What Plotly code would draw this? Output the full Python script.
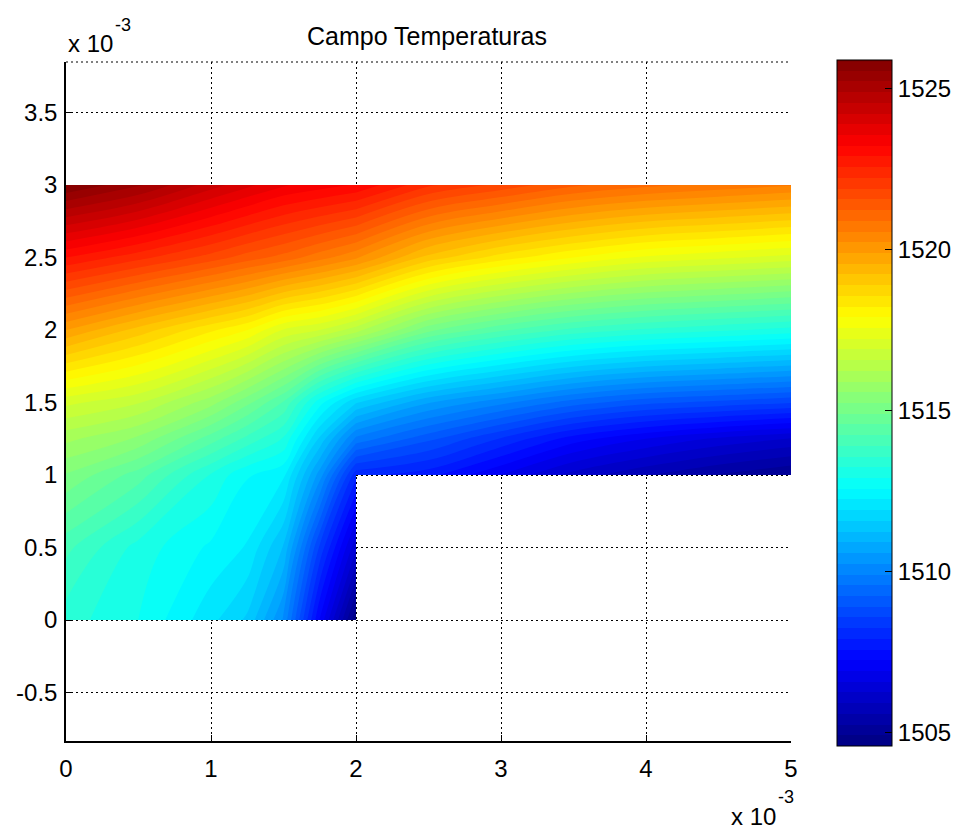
import plotly.graph_objects as go

# ---------------- data ----------------
TITLE = "Campo Temperaturas"

# node coordinates in metres
X_LEFT = [0.0, 0.5e-3, 1.0e-3, 1.25e-3, 1.5e-3, 1.75e-3, 2.0e-3]
Y_LEFT = [0.0, 0.5e-3, 1.0e-3, 1.25e-3, 1.5e-3, 2.0e-3, 2.5e-3, 3.0e-3]
X_RIGHT = [2.0e-3, 2.5e-3, 3.0e-3, 3.5e-3, 4.0e-3, 4.5e-3, 5.0e-3]
Y_RIGHT = [1.0e-3, 1.25e-3, 1.5e-3, 2.0e-3, 2.5e-3, 3.0e-3]

# temperatures at the nodes (rows = y, columns = x)
T_LEFT = [
    [1513.4, 1512.9, 1512.0, 1511.5, 1510.2, 1507.2, 1504.6],
    [1514.0, 1513.1, 1512.5, 1512.2, 1511.2, 1508.5, 1506.3],
    [1515.2, 1514.4, 1513.2, 1512.6, 1512.3, 1510.4, 1508.0],
    [1516.0, 1515.5, 1514.4, 1513.8, 1513.2, 1511.5, 1509.8],
    [1517.0, 1516.6, 1515.7, 1515.0, 1514.2, 1512.7, 1511.6],
    [1519.9, 1519.1, 1518.3, 1517.9, 1517.2, 1516.9, 1516.4],
    [1522.9, 1522.35, 1521.75, 1521.4, 1521.1, 1520.7, 1520.3],
    [1525.9, 1525.3, 1524.4, 1524.0, 1523.6, 1523.4, 1523.2],
]
T_RIGHT = [
    [1508.0, 1507.7, 1506.9, 1506.1, 1505.6, 1505.2, 1504.9],
    [1509.8, 1509.0, 1508.2, 1507.4, 1506.9, 1506.5, 1506.2],
    [1511.6, 1510.6, 1510.0, 1509.4, 1509.0, 1508.8, 1508.6],
    [1516.4, 1515.0, 1514.3, 1513.8, 1513.5, 1513.3, 1513.1],
    [1520.3, 1519.1, 1518.4, 1517.9, 1517.5, 1517.3, 1517.1],
    [1523.2, 1522.3, 1521.8, 1521.3, 1521.0, 1520.8, 1520.6],
]
T_MIN, T_MAX = 1504.57, 1525.9

X_TICKS = [0.0, 1e-3, 2e-3, 3e-3, 4e-3, 5e-3]
X_TICK_LABELS = ["0", "1", "2", "3", "4", "5"]
Y_TICKS = [-0.5e-3, 0.0, 0.5e-3, 1e-3, 1.5e-3, 2e-3, 2.5e-3, 3e-3, 3.5e-3]
Y_TICK_LABELS = ["-0.5", "0", "0.5", "1", "1.5", "2", "2.5", "3", "3.5"]
CBAR_TICKS = [1505, 1510, 1515, 1520, 1525]

X_RANGE = [0.0, 5e-3]
Y_RANGE = [3e-3 - 556e-3 / 145, 3e-3 + 123e-3 / 145]

# ---------------- style ----------------
FONT = "Liberation Sans, Arial, Helvetica, sans-serif"
JET = [
    [0.0, "rgb(0,0,128)"],
    [0.125, "rgb(0,0,255)"],
    [0.375, "rgb(0,255,255)"],
    [0.625, "rgb(255,255,0)"],
    [0.875, "rgb(255,0,0)"],
    [1.0, "rgb(128,0,0)"],
]
W, H = 955, 830
L, R, T, B = 66, 791, 62, 741          # plot area in px (145 px per mm)
CB_L, CB_R, CB_T, CB_B = 837, 892, 60, 746  # colourbar in px
N_COLORS = 64


def px_x(px):
    return (px - L) / (R - L)


def px_y(py):
    return (B - py) / (B - T)


contours = dict(start=T_MIN, end=T_MAX, size=(T_MAX - T_MIN) / N_COLORS,
                coloring="fill", showlines=False)

fig = go.Figure()
fig.add_trace(go.Contour(
    x=X_RIGHT, y=Y_RIGHT, z=T_RIGHT,
    colorscale=JET, zauto=False, zmin=T_MIN, zmax=T_MAX,
    autocontour=False, contours=contours, line=dict(width=0),
    showscale=False, hoverinfo="skip",
))
fig.add_trace(go.Contour(
    x=X_LEFT, y=Y_LEFT, z=T_LEFT,
    colorscale=JET, zauto=False, zmin=T_MIN, zmax=T_MAX,
    autocontour=False, contours=contours, line=dict(width=0),
    showscale=True, hoverinfo="skip",
    colorbar=dict(
        x=px_x(CB_L), xanchor="left", xpad=0,
        y=px_y(CB_B), yanchor="bottom", ypad=0,
        lenmode="fraction", len=(CB_B - CB_T) / (B - T),
        thicknessmode="pixels", thickness=CB_R - CB_L,
        outlinewidth=1, outlinecolor="black",
        tickmode="array", tickvals=CBAR_TICKS,
        ticks="inside", ticklen=7, tickwidth=1, tickcolor="black",
        tickfont=dict(family=FONT, size=24, color="black"),
    ),
))

shapes = []
# dotted top border
shapes.append(dict(type="line", xref="paper", yref="paper", x0=0, x1=1, y0=1, y1=1,
                   line=dict(color="black", width=1, dash="2px,3px")))
# left-side colourbar ticks
for v in CBAR_TICKS:
    py = CB_B - (v - T_MIN) / (T_MAX - T_MIN) * (CB_B - CB_T)
    shapes.append(dict(type="line", xref="paper", yref="paper",
                       x0=px_x(CB_L), x1=px_x(CB_L + 6),
                       y0=px_y(py), y1=px_y(py), line=dict(color="black", width=1)))

annotations = [
    dict(text="x 10", xref="paper", yref="paper", x=px_x(66), y=px_y(43),
         xanchor="left", yanchor="middle", showarrow=False,
         font=dict(family=FONT, size=24, color="black")),
    dict(text="-3", xref="paper", yref="paper", x=px_x(113), y=px_y(25),
         xanchor="left", yanchor="middle", showarrow=False,
         font=dict(family=FONT, size=18, color="black")),
    dict(text="x 10", xref="paper", yref="paper", x=px_x(729), y=px_y(816),
         xanchor="left", yanchor="middle", showarrow=False,
         font=dict(family=FONT, size=24, color="black")),
    dict(text="-3", xref="paper", yref="paper", x=px_x(776), y=px_y(797),
         xanchor="left", yanchor="middle", showarrow=False,
         font=dict(family=FONT, size=18, color="black")),
]

axis_common = dict(
    showgrid=True, gridcolor="black", gridwidth=1, griddash="2px,3px",
    zeroline=False, showline=True, linecolor="black", linewidth=1.5,
    ticks="inside", ticklen=6, tickwidth=1, tickcolor="black",
    tickfont=dict(family=FONT, size=24, color="black"),
    layer="below traces", tickmode="array",
)

fig.update_layout(
    width=W, height=H,
    margin=dict(l=L, r=W - R, t=T, b=H - B, autoexpand=False),
    paper_bgcolor="white", plot_bgcolor="white",
    showlegend=False,
    title=dict(text=TITLE, x=px_x(427), xref="paper", xanchor="center",
               y=1 - 36 / H, yref="container", yanchor="middle",
               font=dict(family=FONT, size=25, color="black")),
    xaxis=dict(range=X_RANGE, tickvals=X_TICKS, ticktext=X_TICK_LABELS,
               ticklabelstandoff=5, **axis_common),
    yaxis=dict(range=Y_RANGE, tickvals=Y_TICKS, ticktext=Y_TICK_LABELS,
               ticklabelstandoff=2, **axis_common),
    shapes=shapes,
    annotations=annotations,
)

fig.write_html("out.html", config={"displayModeBar": False},
               post_script="document.body.style.margin='0';")
